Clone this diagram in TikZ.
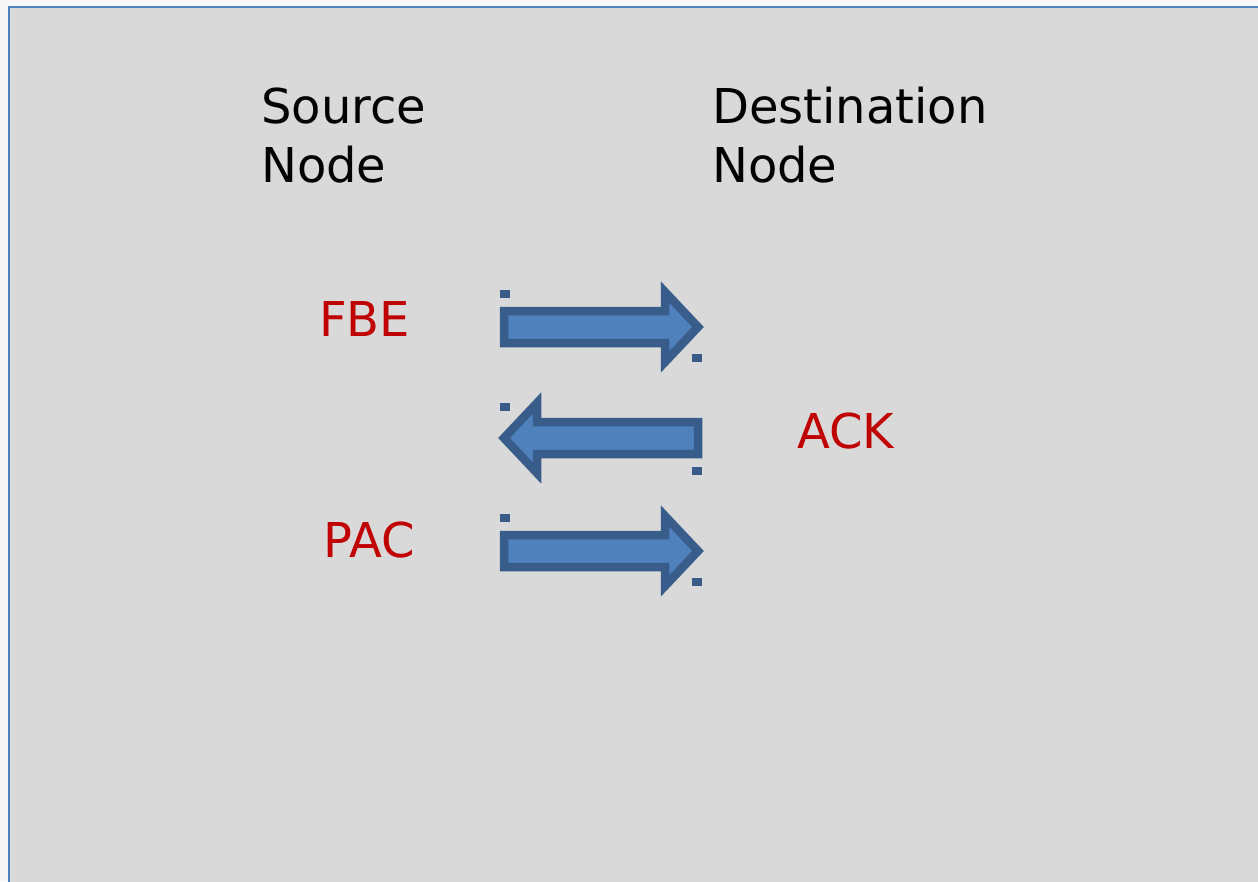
\documentclass[tikz,border=0pt]{standalone}
\usepackage{fontspec}
\setmainfont{DejaVu Sans}
\definecolor{slidebg}{HTML}{D9D9D9}
\definecolor{pagebg}{HTML}{F7F7F7}
\definecolor{frameblue}{HTML}{4F81BD}
\definecolor{arrowfill}{HTML}{4F81BD}
\definecolor{arrowline}{HTML}{385D8A}
\definecolor{labelred}{HTML}{C00000}
\tikzset{
  headline/.style={anchor=base west, inner sep=0pt, align=left,
    font=\fontsize{48}{59}\selectfont, text=black},
  msglabel/.style={anchor=base west, inner sep=0pt,
    font=\fontsize{48}{57}\selectfont, text=labelred},
  handle/.style={fill=arrowline, draw=none},
  pics/blockarrow/.style={code={
    \draw[fill=arrowfill, draw=arrowline, line width=8.5pt, line join=miter]
      (-97,-16) -- (64,-16) -- (64,-35) -- (97,0) -- (64,35) -- (64,16)
      -- (-97,16) -- cycle;
  }}
}
\begin{document}
\begin{tikzpicture}[x=1pt, y=-1pt]
  % page and slide area
  \fill[pagebg] (0,0) rectangle (1258,881);
  \useasboundingbox (0,0) rectangle (1258,881);
  \draw[fill=slidebg, draw=frameblue, line width=2pt] (9,7) rectangle (1270,895);

  % column headings (anchored on the baseline of the second line)
  \node[headline] (src) at (261,182) {Source\\Node};
  \node[headline] (dst) at (712,182) {Destination\\Node};

  % message arrows with their selection handles
  \pic at (601,327) {blockarrow};
  \fill[handle] (500,290) rectangle (510,298);
  \fill[handle] (692,354) rectangle (702,362);

  \pic[xscale=-1] at (601,438) {blockarrow};
  \fill[handle] (500,403) rectangle (510,411);
  \fill[handle] (692,467) rectangle (702,475);

  \pic at (601,551) {blockarrow};
  \fill[handle] (500,514) rectangle (510,522);
  \fill[handle] (692,578) rectangle (702,586);

  % message names
  \node[msglabel] (fbe) at (319,336) {FBE};
  \node[msglabel] (ack) at (797,448) {ACK};
  \node[msglabel] (pac) at (323,557) {PAC};
\end{tikzpicture}
\end{document}
